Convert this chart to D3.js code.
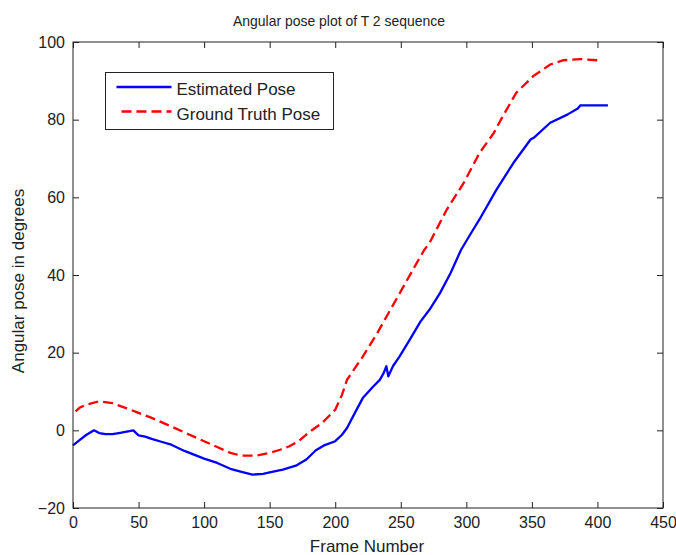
<!DOCTYPE html>
<html>
<head>
<meta charset="utf-8">
<script src="https://cdn.jsdelivr.net/npm/d3@7"></script>
<style>
  body { margin: 0; background: #fff; }
  svg { display: block; font-family: "Liberation Sans", Arial, sans-serif; }
</style>
</head>
<body>
<svg id="chart" width="676" height="555"></svg>
<script>
// frame numbers / angles
const estFrames = [0, 5, 10, 16, 20, 25, 30, 35, 40, 46, 50, 55, 60, 68, 75, 85, 100, 110, 120, 130, 137, 145, 150, 160, 170, 178, 185, 192, 200, 205, 209, 215, 221, 229, 234, 237, 239, 240.5, 244, 249, 257, 265, 272, 280, 288, 296, 304, 310, 323, 336, 349, 352, 364, 377, 385, 387, 408];
const estPose = [-3.9, -2.5, -1.2, 0, -0.7, -1.0, -1.0, -0.7, -0.4, 0, -1.3, -1.6, -2.2, -3.0, -3.7, -5.3, -7.3, -8.4, -9.9, -10.8, -11.4, -11.2, -10.8, -10.1, -9.1, -7.5, -5.2, -3.8, -2.8, -1.2, 0.6, 4.5, 8.3, 11.3, 13.0, 14.8, 16.5, 13.9, 16.5, 19, 23.4, 28, 31.1, 35.4, 40.5, 46.5, 51, 54.3, 62, 68.9, 74.9, 75.5, 79.2, 81.3, 82.9, 83.7, 83.7];

const gtFrames = [2, 5, 10, 20, 30, 40, 50, 60, 75, 88, 100, 110, 120, 128, 140, 150, 158, 165, 172, 180, 190, 200, 205, 209, 215, 221, 232, 242, 252, 262, 268, 272, 285, 298, 310, 321, 327, 338, 351, 364, 374, 387, 400];
const gtPose = [4.9, 5.8, 6.6, 7.5, 7.0, 5.8, 4.5, 3.2, 1.0, -1.0, -2.8, -4.3, -5.8, -6.5, -6.5, -5.8, -5.0, -4.1, -2.8, -0.5, 1.9, 5.3, 9, 13, 16, 19, 25, 31, 37, 43, 46.5, 48.3, 56.8, 63.7, 71.4, 76.6, 80.4, 86.9, 91.2, 94.2, 95.3, 95.6, 95.3];

const seriesNames = ["Estimated Pose", "Ground Truth Pose"];
const xTicks = [0, 50, 100, 150, 200, 250, 300, 350, 400, 450];
const yTicks = [-20, 0, 20, 40, 60, 80, 100];

const margin = { top: 42, right: 13, bottom: 47, left: 73 },
  width = 676,
  height = 555;

const svg = d3.select("#chart");

const x = d3.scaleLinear([0, 450], [margin.left, width - margin.right]);
const y = d3.scaleLinear([-20, 100], [height - margin.bottom, margin.top]);

const estData = estFrames.map((f, i) => ({ f, v: estPose[i] }));
const gtData = gtFrames.map((f, i) => ({ f, v: gtPose[i] }));

const line = d3
  .line()
  .x((d) => x(d.f))
  .y((d) => y(d.v));

// lines
svg
  .append("path")
  .attr("fill", "none")
  .attr("stroke", "#0000ff")
  .attr("stroke-width", 2.3)
  .attr("stroke-linejoin", "round")
  .attr("d", line(estData));

svg
  .append("path")
  .attr("fill", "none")
  .attr("stroke", "#ff0000")
  .attr("stroke-width", 2.3)
  .attr("stroke-dasharray", "10,5")
  .attr("d", line(gtData));

// axes, ticks pointing inward like matlab
const styleAxis = (g) => {
  g.select(".domain").remove();
  g.selectAll(".tick line").attr("stroke", "#222");
  g.selectAll("text").attr("fill", "#222").attr("font-size", 16);
};

svg
  .append("g")
  .attr("transform", `translate(0,${y(-20)})`)
  .call(d3.axisBottom(x).tickValues(xTicks).tickSizeInner(-6).tickSizeOuter(0).tickPadding(9))
  .call(styleAxis);

svg
  .append("g")
  .attr("transform", `translate(${x(0)},0)`)
  .call(d3.axisLeft(y).tickValues(yTicks).tickSizeInner(-6).tickSizeOuter(0).tickPadding(8))
  .call(styleAxis);

svg
  .append("g")
  .attr("transform", `translate(0,${y(100)})`)
  .call(d3.axisTop(x).tickValues(xTicks).tickSizeInner(-6).tickSizeOuter(0).tickFormat(""))
  .call(styleAxis);

svg
  .append("g")
  .attr("transform", `translate(${x(450)},0)`)
  .call(d3.axisRight(y).tickValues(yTicks).tickSizeInner(-6).tickSizeOuter(0).tickFormat(""))
  .call(styleAxis);

// box round the plot
svg
  .append("rect")
  .attr("x", x(0))
  .attr("y", y(100))
  .attr("width", x(450) - x(0))
  .attr("height", y(-20) - y(100))
  .attr("fill", "none")
  .attr("stroke", "#222")
  .attr("stroke-width", 1);

// title and labels
svg
  .append("text")
  .attr("x", 339)
  .attr("y", 26)
  .attr("text-anchor", "middle")
  .attr("font-size", 15)
  .attr("textLength", 212)
  .attr("lengthAdjust", "spacingAndGlyphs")
  .attr("fill", "#222")
  .text("Angular pose plot of T 2 sequence");

svg
  .append("text")
  .attr("x", 367)
  .attr("y", 552)
  .attr("text-anchor", "middle")
  .attr("font-size", 17)
  .attr("fill", "#222")
  .text("Frame Number");

svg
  .append("text")
  .attr("transform", "translate(24,281) rotate(-90)")
  .attr("text-anchor", "middle")
  .attr("font-size", 17)
  .attr("fill", "#222")
  .text("Angular pose in degrees");

// legend
const legend = svg.append("g").attr("transform", "translate(105.5,72.5)");
legend
  .append("rect")
  .attr("width", 228)
  .attr("height", 57)
  .attr("fill", "#fff")
  .attr("stroke", "#222");

const legendStyles = [
  { color: "#0000ff", dash: null },
  { color: "#ff0000", dash: "10,5" },
];
seriesNames.forEach((name, i) => {
  const ly = 14.5 + i * 24.5;
  legend
    .append("line")
    .attr("x1", i === 0 ? 11 : 16)
    .attr("x2", 66)
    .attr("y1", ly)
    .attr("y2", ly)
    .attr("stroke", legendStyles[i].color)
    .attr("stroke-width", 2.3)
    .attr("stroke-dasharray", legendStyles[i].dash);
  legend
    .append("text")
    .attr("x", 71)
    .attr("y", ly + 8)
    .attr("font-size", 17)
    .attr("fill", "#222")
    .text(name);
});
</script>
</body>
</html>
